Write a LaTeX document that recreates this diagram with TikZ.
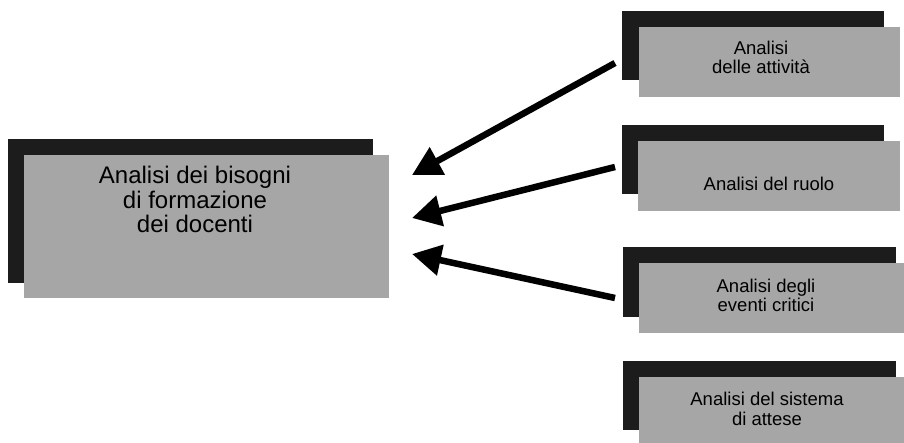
\documentclass[tikz,border=0pt]{standalone}
\usepackage{fontspec}
\setmainfont{Liberation Sans}
\usetikzlibrary{arrows.meta}
\definecolor{boxgray}{HTML}{A6A6A6}
\definecolor{boxblack}{HTML}{1C1C1C}
\begin{document}
\begin{tikzpicture}[x=1pt,y=-1pt,
  shadowbox/.style={fill=boxblack,draw=none,inner sep=0pt,anchor=north west},
  graybox/.style={fill=boxgray,draw=none,inner sep=0pt,anchor=north west},
  bigtext/.style={inner sep=0pt,anchor=base,align=center,font=\fontsize{24}{24.5}\selectfont},
  smalltext/.style={inner sep=0pt,anchor=base,align=center,font=\fontsize{18.5}{19.5}\selectfont},
  bigarrow/.style={line width=6.5pt,-{Triangle[length=29pt,width=30pt]}}]
\useasboundingbox (0,0) rectangle (904,443);
% main box
\node[shadowbox,minimum width=365pt,minimum height=144pt] (ms) at (8,139) {};
\node[graybox,minimum width=365pt,minimum height=143pt] (mg) at (24,155) {};
\node[bigtext] (mt) at (195,233) {Analisi dei bisogni\\di formazione\\dei docenti};
% box 1
\node[shadowbox,minimum width=262pt,minimum height=69pt] (s1b) at (622,11) {};
\node[graybox,minimum width=261pt,minimum height=70pt] (g1) at (639,27) {};
\node[smalltext] (t1) at (761,74) {Analisi\\delle attività};
% box 2
\node[shadowbox,minimum width=262pt,minimum height=69pt] (s2b) at (622,125) {};
\node[graybox,minimum width=262pt,minimum height=70pt] (g2) at (638,141) {};
\node[smalltext] (t2) at (769,191) {Analisi del ruolo};
% box 3
\node[shadowbox,minimum width=273pt,minimum height=70pt] (s3b) at (623,247) {};
\node[graybox,minimum width=265pt,minimum height=70pt] (g3) at (639,263) {};
\node[smalltext] (t3) at (766,312) {Analisi degli\\eventi critici};
% box 4
\node[shadowbox,minimum width=273pt,minimum height=69pt] (s4b) at (623,361) {};
\node[graybox,minimum width=265pt,minimum height=66pt] (g4) at (639,377) {};
\node[smalltext] (t4) at (767,425) {Analisi del sistema\\di attese};
% arrows
\coordinate (a1s) at (615,63);
\coordinate (a1e) at (412,175);
\coordinate (a2s) at (615,167);
\coordinate (a2e) at (412,218);
\coordinate (a3s) at (615,298);
\coordinate (a3e) at (412,254);
\draw[bigarrow] (a1s) -- (a1e);
\draw[bigarrow] (a2s) -- (a2e);
\draw[bigarrow] (a3s) -- (a3e);
\end{tikzpicture}
\end{document}
